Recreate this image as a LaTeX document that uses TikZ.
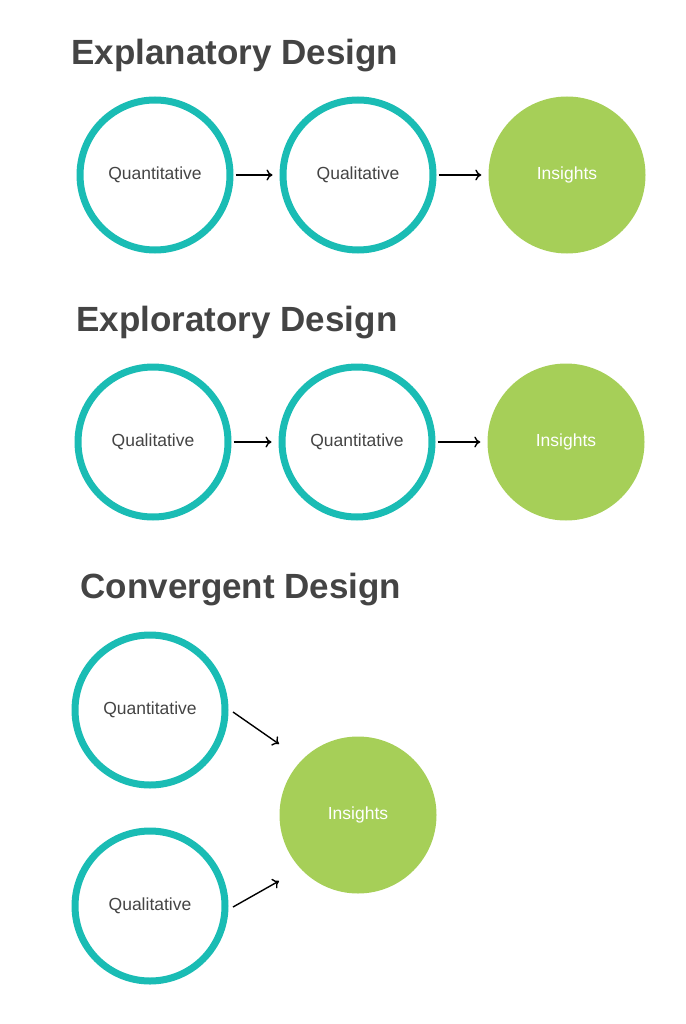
\documentclass[tikz,border=0pt]{standalone}
\usepackage{fontspec}
\setmainfont{Liberation Sans}
\usetikzlibrary{positioning,arrows.meta}
\definecolor{ringteal}{RGB}{26,188,180}
\definecolor{leafgreen}{RGB}{166,207,88}
\definecolor{inkgrey}{RGB}{68,68,68}
\tikzset{
  ring/.style={circle,draw=ringteal,line width=7pt,minimum size=150pt,inner sep=0pt,
    text=inkgrey,font=\fontsize{17.5}{20}\selectfont},
  blob/.style={circle,fill=leafgreen,minimum size=157pt,inner sep=0pt,
    text=white,font=\fontsize{17.5}{20}\selectfont},
  heading/.style={anchor=west,text=inkgrey,font=\bfseries\fontsize{35}{40}\selectfont},
  tip/.style={-{To[length=6pt,width=11pt]},line width=1.4pt},
  flow/.style={tip,shorten <=2pt,shorten >=7pt}
}
\begin{document}
\begin{tikzpicture}[x=1pt,y=1pt,yscale=-1]
\useasboundingbox (0,0) rectangle (685,1024);

% Explanatory
\node[heading] (tExpl) at (68,56) {Explanatory Design};
\node[ring] (expQn) at (155,175) {Quantitative};
\node[ring] (expQl) at (358,175) {Qualitative};
\node[blob] (expIn) at (567,175) {Insights};
\draw[flow] (expQn) -- (expQl);
\draw[flow] (expQl) -- (expIn);

% Exploratory
\node[heading] (tExpo) at (73,323) {Exploratory Design};
\node[ring] (xplQl) at (153,442) {Qualitative};
\node[ring] (xplQn) at (357,442) {Quantitative};
\node[blob] (xplIn) at (566,442) {Insights};
\draw[flow] (xplQl) -- (xplQn);
\draw[flow] (xplQn) -- (xplIn);

% Convergent
\node[heading] (tConv) at (77,590) {Convergent Design};
\node[ring] (cnvQn) at (150,710) {Quantitative};
\node[ring] (cnvQl) at (150,906) {Qualitative};
\node[blob] (cnvIn) at (358,815) {Insights};
\coordinate (cnvTop) at (279,744);
\coordinate (cnvBot) at (279,881);
\draw[tip] (233,712) -- (cnvTop);
\draw[tip] (233,907) -- (cnvBot);
\end{tikzpicture}
\end{document}
